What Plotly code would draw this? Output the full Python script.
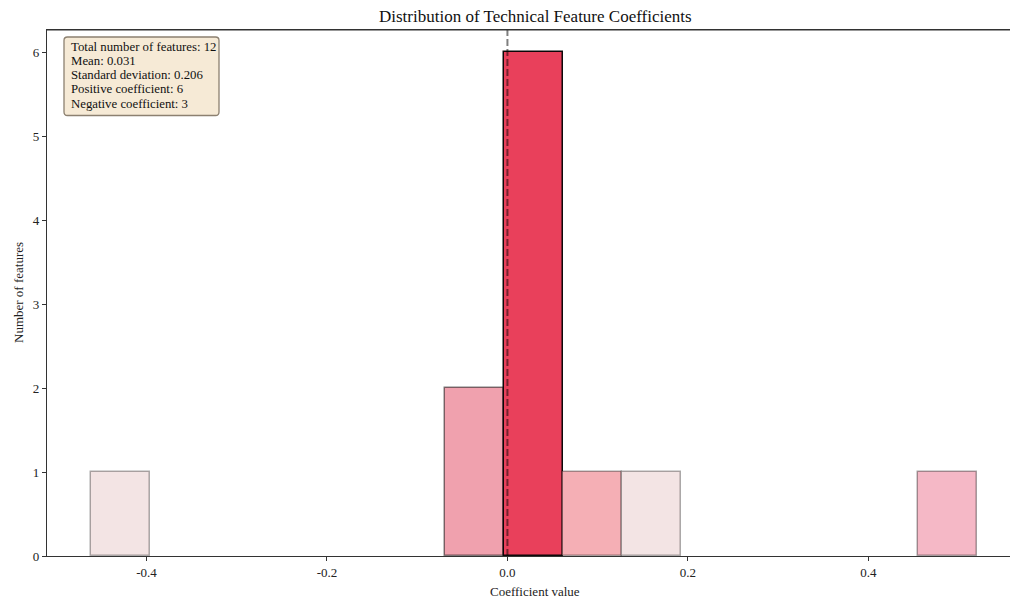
import plotly.graph_objects as go

# Histogram bins
bin_left = [-0.4615, -0.0690, -0.0035, 0.0620, 0.1274, 0.4545]
bin_width = 0.0654
counts = [1, 2, 6, 1, 1, 1]
fill_colors = ["rgb(243,228,228)", "rgb(240,161,174)", "rgb(233,64,91)",
               "rgb(245,175,181)", "rgb(243,228,228)", "rgb(245,184,198)"]
edge_colors = ["rgba(0,0,0,0.32)", "rgba(0,0,0,0.5)", "rgba(0,0,0,0.95)",
               "rgba(0,0,0,0.35)", "rgba(0,0,0,0.32)", "rgba(0,0,0,0.35)"]
mean_line_x = 0.0

x_tick_vals = [-0.4, -0.2, 0.0, 0.2, 0.4]
x_tick_text = ["-0.4", "-0.2", "0.0", "0.2", "0.4"]
y_tick_vals = [0, 1, 2, 3, 4, 5, 6]

stats_lines = ["Total number of features: 12", "Mean: 0.031",
               "Standard deviation: 0.206", "Positive coefficient: 6",
               "Negative coefficient: 3"]

centers = [b + bin_width / 2 for b in bin_left]
FONT = "Liberation Serif, Times New Roman, serif"

# plot-area geometry in pixels
L, T, B, W, H = 47, 30, 556, 1010, 601
PW, PH = W - L, B - T


def px(x):
    return (x - L) / PW


def py(y):
    return (B - y) / PH


fig = go.Figure()
fig.add_trace(go.Bar(
    x=centers, y=counts, width=[bin_width] * len(counts),
    marker=dict(color=fill_colors, line=dict(color=edge_colors, width=1.5)),
    showlegend=False, hoverinfo="x+y",
))

fig.add_shape(type="line", x0=mean_line_x, x1=mean_line_x, y0=0, y1=1,
              xref="x", yref="paper", layer="above",
              line=dict(color="rgba(0,0,0,0.5)", width=2, dash="7px,3px"))
# top spine
fig.add_shape(type="line", x0=0, x1=1, y0=1, y1=1, xref="paper", yref="paper",
              layer="above", line=dict(color="#333", width=1.2))

# rounded stats box
bx0, bx1, by0, by1, r = 64, 219, 37, 115.5, 3.5
path = (f"M {px(bx0 + r)},{py(by0)} L {px(bx1 - r)},{py(by0)} "
        f"Q {px(bx1)},{py(by0)} {px(bx1)},{py(by0 + r)} "
        f"L {px(bx1)},{py(by1 - r)} Q {px(bx1)},{py(by1)} {px(bx1 - r)},{py(by1)} "
        f"L {px(bx0 + r)},{py(by1)} Q {px(bx0)},{py(by1)} {px(bx0)},{py(by1 - r)} "
        f"L {px(bx0)},{py(by0 + r)} Q {px(bx0)},{py(by0)} {px(bx0 + r)},{py(by0)} Z")
fig.add_shape(type="path", path=path, xref="paper", yref="paper", layer="above",
              fillcolor="rgb(246,234,214)",
              line=dict(color="rgb(140,128,112)", width=1.3))

for i, line in enumerate(stats_lines):
    fig.add_annotation(text=line, xref="paper", yref="paper",
                       x=px(69), y=py(46.7 + 14.25 * i), xanchor="left",
                       yanchor="middle", showarrow=False,
                       font=dict(size=12.8, family=FONT, color="#111"))

fig.update_layout(
    template="none",
    width=W, height=H,
    margin=dict(l=L, r=0, t=T, b=H - B, autoexpand=False),
    plot_bgcolor="white", paper_bgcolor="white",
    font=dict(family=FONT, size=13, color="#222"),
    bargap=0,
    xaxis=dict(range=[-0.5103, 0.557], tickvals=x_tick_vals, ticktext=x_tick_text,
               showline=True, linecolor="#333", linewidth=1.2, mirror=True,
               ticks="outside", ticklen=4, tickcolor="#333", showgrid=False,
               zeroline=False, automargin=False,
               tickfont=dict(size=13, family=FONT, color="#222")),
    yaxis=dict(range=[0, 6.265], tickvals=y_tick_vals,
               showline=True, linecolor="#333", linewidth=1.2,
               ticks="outside", ticklen=4, tickcolor="#333", showgrid=False,
               zeroline=False, automargin=False,
               tickfont=dict(size=13, family=FONT, color="#222")),
)

fig.add_annotation(text="Distribution of Technical Feature Coefficients",
                   xref="paper", yref="paper", x=px(535), y=py(16),
                   xanchor="center", yanchor="middle",
                   showarrow=False, font=dict(size=17, family=FONT, color="#111"))
fig.add_annotation(text="Coefficient value", xref="paper", yref="paper",
                   x=px(535), y=py(591), xanchor="center",
                   yanchor="middle", showarrow=False,
                   font=dict(size=13, family=FONT, color="#222"))
fig.add_annotation(text="Number of features", xref="paper", yref="paper",
                   x=px(18), y=0.5, textangle=-90, xanchor="center",
                   yanchor="middle", showarrow=False,
                   font=dict(size=13, family=FONT, color="#222"))

fig.write_html("out.html", config={"displayModeBar": False},
               post_script="document.body.style.margin='0';document.body.style.overflow='hidden';")
